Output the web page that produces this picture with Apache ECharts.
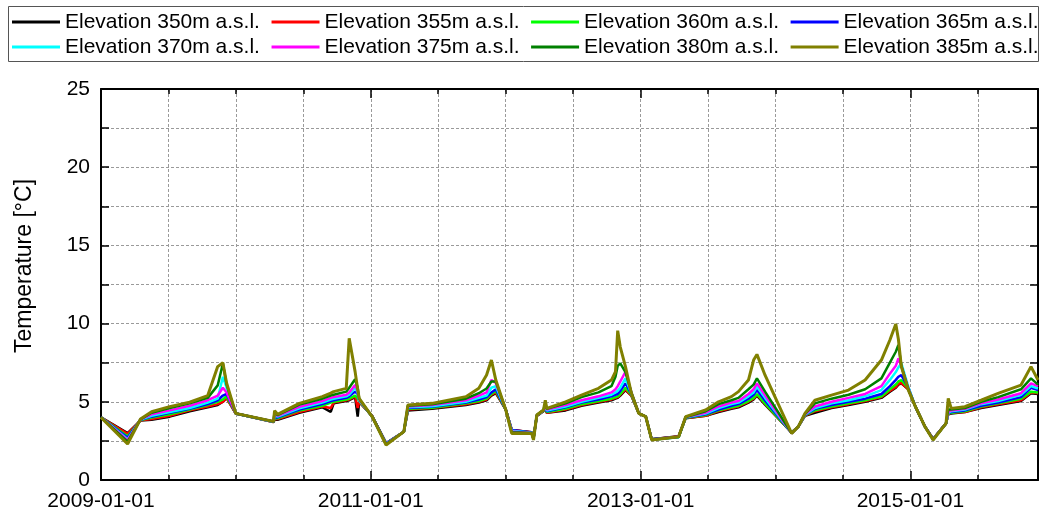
<!DOCTYPE html>
<html>
<head>
<meta charset="utf-8">
<script src="https://cdn.jsdelivr.net/npm/echarts@6/dist/echarts.min.js"></script>
<style>
  html, body { margin: 0; padding: 0; background: #ffffff; }
  #chart { width: 1041px; height: 516px; }
</style>
</head>
<body>
<div id="chart"></div>
<script>
// Sampling dates of the temperature records
const dates = [
  '2009-01-01','2009-03-14','2009-04-18','2009-05-18','2009-07-06','2009-08-29','2009-10-17','2009-11-13',
  '2009-11-27','2009-12-07','2010-01-01','2010-04-13','2010-04-16','2010-04-24','2010-06-22','2010-08-23',
  '2010-09-15','2010-09-23','2010-10-27','2010-11-04','2010-11-20','2010-11-27','2010-12-01','2011-01-05',
  '2011-02-12','2011-04-01','2011-04-12','2011-06-16','2011-09-16','2011-10-21','2011-11-11','2011-11-24',
  '2011-12-06','2012-01-02','2012-01-18','2012-03-12','2012-03-17','2012-03-26','2012-04-13','2012-04-18',
  '2012-04-22','2012-06-12','2012-07-25','2012-09-09','2012-10-14','2012-10-25','2012-10-31','2012-11-07',
  '2012-11-21','2012-12-07','2012-12-27','2013-01-15','2013-01-31','2013-04-14','2013-05-03','2013-06-26',
  '2013-07-31','2013-09-04','2013-09-23','2013-10-20','2013-11-03','2013-11-12','2013-12-04','2014-02-14',
  '2014-03-04','2014-03-22','2014-04-18','2014-06-02','2014-07-18','2014-09-01','2014-10-15','2014-11-07',
  '2014-11-23','2014-11-30','2014-12-08','2014-12-27','2015-01-15','2015-02-10','2015-03-04','2015-04-08',
  '2015-04-14','2015-04-22','2015-05-29','2015-07-12','2015-08-27','2015-10-28','2015-11-24','2015-12-13'
];

// Temperature [°C] per elevation
const elev350 = [
  4.0, 3.0, 3.8, 3.85, 4.05, 4.4, 4.65, 4.8,
  5.0, 5.25, 4.25, 3.7, 3.85, 3.85, 4.3, 4.65,
  4.35, 4.9, 5.05, 5.1, 5.3, 4.05, 5.0, 4.1,
  2.35, 3.09, 4.45, 4.55, 4.8, 4.95, 5.1, 5.4,
  5.55, 4.5, 3.2, 3.05, 2.7, 4.1, 4.4, 4.55,
  4.3, 4.45, 4.75, 4.95, 5.1, 5.2, 5.25, 5.4,
  5.75, 5.4, 4.26, 4.05, 2.6, 2.8, 3.95, 4.1,
  4.35, 4.55, 4.65, 4.95, 5.15, 5.4, 4.82, 3.05,
  3.41, 4.1, 4.3, 4.6, 4.8, 5.0, 5.25, 5.65,
  5.9, 6.1, 6.18, 5.8, 4.69, 3.41, 2.62, 3.62,
  4.2, 4.25, 4.35, 4.6, 4.8, 5.05, 5.55, 5.5
];
const elev355 = [
  4.0, 2.95, 3.82, 3.9, 4.1, 4.45, 4.7, 4.85,
  5.0, 5.25, 4.25, 3.71, 3.9, 3.9, 4.35, 4.7,
  4.6, 4.95, 5.1, 5.15, 5.35, 4.6, 5.0, 4.1,
  2.35, 3.09, 4.5, 4.6, 4.85, 5.0, 5.15, 5.45,
  5.6, 4.5, 3.2, 3.05, 2.7, 4.1, 4.42, 4.58,
  4.3, 4.5, 4.8, 5.0, 5.15, 5.25, 5.3, 5.45,
  5.8, 5.4, 4.26, 4.05, 2.6, 2.78, 3.97, 4.1,
  4.4, 4.6, 4.7, 5.0, 5.2, 5.45, 4.86, 3.03,
  3.41, 4.12, 4.4, 4.65, 4.85, 5.05, 5.3, 5.7,
  5.95, 6.15, 6.2, 5.8, 4.69, 3.41, 2.62, 3.62,
  4.22, 4.3, 4.35, 4.65, 4.85, 5.1, 5.6, 5.55
];
const elev360 = [
  4.0, 2.8, 3.84, 4.0, 4.2, 4.5, 4.8, 5.0,
  5.15, 5.35, 4.25, 3.72, 3.95, 3.95, 4.45, 4.75,
  4.95, 5.0, 5.15, 5.2, 5.4, 5.2, 5.05, 4.08,
  2.33, 3.09, 4.55, 4.62, 4.9, 5.05, 5.2, 5.5,
  5.7, 4.5, 3.15, 3.04, 2.68, 4.12, 4.43, 4.6,
  4.35, 4.55, 4.85, 5.05, 5.2, 5.3, 5.35, 5.5,
  5.9, 5.45, 4.26, 4.05, 2.6, 2.75, 3.98, 4.15,
  4.45, 4.65, 4.75, 5.05, 5.25, 5.5, 4.9, 3.02,
  3.41, 4.14, 4.45, 4.7, 4.9, 5.1, 5.35, 5.8,
  6.1, 6.3, 6.39, 5.85, 4.69, 3.41, 2.6, 3.62,
  4.25, 4.3, 4.4, 4.7, 4.9, 5.2, 5.65, 5.6
];
const elev365 = [
  4.0, 2.7, 3.85, 4.05, 4.3, 4.55, 4.85, 5.1,
  5.4, 5.5, 4.25, 3.73, 4.0, 4.0, 4.5, 4.85,
  5.05, 5.1, 5.25, 5.35, 5.65, 5.5, 5.1, 4.07,
  2.35, 3.09, 4.6, 4.68, 4.95, 5.15, 5.3, 5.6,
  5.8, 4.5, 3.2, 3.03, 2.66, 4.12, 4.44, 4.62,
  4.4, 4.65, 4.95, 5.15, 5.35, 5.45, 5.5, 5.7,
  6.18, 5.5, 4.26, 4.05, 2.6, 2.77, 4.0, 4.2,
  4.5, 4.75, 4.85, 5.2, 5.45, 5.75, 5.08, 3.0,
  3.41, 4.16, 4.55, 4.8, 5.0, 5.2, 5.5, 6.0,
  6.4, 6.6, 6.71, 5.9, 4.69, 3.41, 2.62, 3.62,
  4.28, 4.35, 4.45, 4.75, 4.95, 5.3, 5.9, 5.75
];
const elev370 = [
  4.0, 2.6, 3.86, 4.1, 4.35, 4.6, 4.95, 5.2,
  6.6, 5.9, 4.25, 3.73, 4.1, 4.05, 4.58, 4.95,
  5.15, 5.2, 5.35, 5.45, 5.9, 5.6, 5.1, 4.06,
  2.32, 3.09, 4.65, 4.72, 5.0, 5.25, 5.4, 5.9,
  6.0, 4.49, 3.15, 3.02, 2.64, 4.14, 4.45, 4.65,
  4.45, 4.7, 5.0, 5.25, 5.45, 5.6, 5.7, 5.9,
  6.5, 5.55, 4.26, 4.05, 2.58, 2.74, 4.01, 4.25,
  4.6, 4.85, 4.95, 5.35, 5.6, 5.97, 5.25, 3.0,
  3.41, 4.18, 4.6, 4.9, 5.1, 5.35, 5.75, 6.4,
  6.9, 7.2, 7.46, 5.95, 4.69, 3.41, 2.6, 3.62,
  4.3, 4.4, 4.5, 4.85, 5.05, 5.45, 6.0, 5.85
];
const elev375 = [
  4.0, 2.55, 3.87, 4.2, 4.45, 4.75, 5.1, 5.4,
  5.9, 5.6, 4.25, 3.74, 4.25, 4.1, 4.68, 5.05,
  5.25, 5.3, 5.45, 5.6, 6.07, 5.7, 5.15, 4.06,
  2.3, 3.09, 4.7, 4.8, 5.1, 5.4, 5.6, 6.4,
  6.2, 4.49, 3.1, 3.01, 2.62, 4.14, 4.46, 4.7,
  4.5, 4.8, 5.1, 5.35, 5.6, 5.8, 6.0, 6.3,
  6.92, 5.6, 4.26, 4.05, 2.58, 2.76, 4.02, 4.3,
  4.7, 4.95, 5.05, 5.5, 5.8, 6.18, 5.41, 2.99,
  3.41, 4.2, 4.7, 5.0, 5.25, 5.5, 6.0, 6.8,
  7.3, 7.78, 7.3, 5.85, 4.69, 3.41, 2.6, 3.62,
  4.35, 4.45, 4.55, 4.9, 5.15, 5.55, 6.18, 6.0
];
const elev380 = [
  4.0, 2.45, 3.88, 4.3, 4.6, 4.9, 5.25, 6.05,
  7.45, 6.1, 4.25, 3.74, 4.35, 4.15, 4.82, 5.2,
  5.4, 5.45, 5.65, 5.9, 6.44, 5.9, 5.2, 4.05,
  2.28, 3.09, 4.75, 4.85, 5.2, 5.55, 5.85, 6.3,
  6.3, 4.48, 3.05, 3.0, 2.6, 4.15, 4.47, 4.9,
  4.55, 4.9, 5.3, 5.6, 6.0, 6.6, 7.3, 7.46,
  6.9, 5.6, 4.26, 4.05, 2.57, 2.75, 4.03, 4.4,
  4.85, 5.1, 5.25, 5.8, 6.1, 6.5, 5.65, 2.99,
  3.41, 4.22, 4.9, 5.2, 5.45, 5.8, 6.5, 7.5,
  8.2, 8.63, 7.3, 5.8, 4.69, 3.41, 2.58, 3.62,
  4.5, 4.5, 4.6, 5.0, 5.3, 5.8, 6.5, 6.1
];
const elev385 = [
  4.0, 2.3, 3.9, 4.37, 4.69, 4.97, 5.4, 7.25,
  7.5, 6.2, 4.26, 3.75, 4.43, 4.2, 4.9, 5.33,
  5.55, 5.65, 5.86, 9.06, 6.93, 5.8, 5.22, 4.05,
  2.24, 3.09, 4.8, 4.9, 5.33, 5.86, 6.71, 7.67,
  6.39, 4.48, 2.98, 2.98, 2.56, 4.16, 4.48, 5.1,
  4.58, 5.0, 5.43, 5.86, 6.39, 6.92, 9.55, 8.5,
  7.25, 5.54, 4.26, 4.05, 2.56, 2.77, 4.05, 4.48,
  5.0, 5.33, 5.65, 6.39, 7.67, 8.03, 6.7, 2.98,
  3.41, 4.26, 5.1, 5.43, 5.75, 6.39, 7.67, 8.95,
  9.97, 9.0, 7.25, 5.75, 4.69, 3.41, 2.56, 3.62,
  5.22, 4.58, 4.69, 5.1, 5.54, 6.07, 7.25, 6.39
];

const seriesNames = [
  'Elevation 350m a.s.l.', 'Elevation 355m a.s.l.', 'Elevation 360m a.s.l.', 'Elevation 365m a.s.l.',
  'Elevation 370m a.s.l.', 'Elevation 375m a.s.l.', 'Elevation 380m a.s.l.', 'Elevation 385m a.s.l.'
];
const seriesValues = [elev350, elev355, elev360, elev365, elev370, elev375, elev380, elev385];
const seriesColors = ['#000000', '#ff0000', '#00ff00', '#0000ff', '#00ffff', '#ff00ff', '#008000', '#808000'];

const xTickLabels = ['2009-01-01', '2011-01-01', '2013-01-01', '2015-01-01'];
const yTickLabels = ['0', '5', '10', '15', '20', '25'];

// x positions are days since the first tick label date
const DAY = 86400000;
const origin = Date.parse(xTickLabels[0]);
const toDays = d => (Date.parse(d) - origin) / DAY;
const xMax = toDays(dates[dates.length - 1]);
const TWO_YEARS = 730.5;

const FONT = '"Liberation Sans", Arial, Helvetica, sans-serif';
const gridLine = { color: '#9a9a9a', width: 1, type: [3, 2] };

function xLabel(v) {
  const k = Math.round(v / TWO_YEARS);
  if (Math.abs(v - k * TWO_YEARS) > 1e-3) return '';
  return xTickLabels[k] || '';
}
function yLabel(v) {
  const k = Math.round(v / 5);
  if (Math.abs(v - k * 5) > 1e-6) return '';
  return yTickLabels[k] || '';
}

const frameX = {
  type: 'value', min: 0, max: xMax, interval: TWO_YEARS,
  axisLine: { show: true, onZero: false, lineStyle: { color: '#000', width: 2 } },
  axisTick: { show: true, inside: true, length: 9, lineStyle: { color: '#000', width: 1.5 } },
  minorTick: { show: true, splitNumber: 4, length: 5, lineStyle: { color: '#000', width: 1.5 } }
};
const frameY = {
  type: 'value', min: 0, max: 25, interval: 2.5,
  axisLine: { show: true, onZero: false, lineStyle: { color: '#000', width: 2 } },
  axisTick: { show: true, inside: true, length: 8, lineStyle: { color: '#000', width: 1.5 } }
};

const chart = echarts.init(document.getElementById('chart'), null, { renderer: 'canvas' });

const legendBase = {
  orient: 'horizontal', left: 12, padding: 0, itemGap: 11.6,
  itemWidth: 48, itemHeight: 3, icon: 'rect', selectedMode: false,
  textStyle: { fontFamily: FONT, fontSize: 21, color: '#000' }
};

chart.setOption({
  animation: false,
  backgroundColor: '#ffffff',
  grid: { left: 101, right: 1, top: 89, bottom: 36, containLabel: false },
  legend: [
    Object.assign({}, legendBase, { top: 11.5, data: seriesNames.slice(0, 4) }),
    Object.assign({}, legendBase, { top: 36.5, data: seriesNames.slice(4, 8) })
  ],
  graphic: [
    {
      type: 'rect', z: -1, silent: true,
      shape: { x: 8.5, y: 6.5, width: 1030, height: 55 },
      style: { fill: '#ffffff', stroke: '#555555', lineWidth: 1 }
    },
    {
      type: 'text', silent: true, x: 25, y: 266, rotation: Math.PI / 2,
      style: {
        text: 'Temperature [°C]', font: '23px ' + FONT, fill: '#000',
        align: 'center', verticalAlign: 'middle', textAlign: 'center', textVerticalAlign: 'middle'
      }
    }
  ],
  xAxis: [
    Object.assign({}, frameX, {
      position: 'bottom',
      splitLine: { show: true, lineStyle: gridLine },
      minorSplitLine: { show: true, lineStyle: gridLine },
      axisLabel: { show: true, formatter: xLabel, fontFamily: FONT, fontSize: 21, color: '#000', margin: 11 }
    }),
    Object.assign({}, frameX, {
      position: 'top',
      splitLine: { show: false }, minorSplitLine: { show: false },
      axisLabel: { show: false }
    })
  ],
  yAxis: [
    Object.assign({}, frameY, {
      position: 'left',
      splitLine: { show: true, lineStyle: gridLine },
      axisLabel: { show: true, formatter: yLabel, fontFamily: FONT, fontSize: 21, color: '#000', margin: 11 }
    }),
    Object.assign({}, frameY, {
      position: 'right',
      splitLine: { show: false },
      axisLabel: { show: false }
    })
  ],
  series: seriesNames.map((name, s) => ({
    name: name,
    type: 'line',
    xAxisIndex: 0, yAxisIndex: 0,
    showSymbol: false, symbol: 'none',
    color: seriesColors[s],
    lineStyle: { color: seriesColors[s], width: s === 7 ? 3 : 2.5 },
    data: dates.map((d, i) => [toDays(d), seriesValues[s][i]])
  }))
});
</script>
</body>
</html>
